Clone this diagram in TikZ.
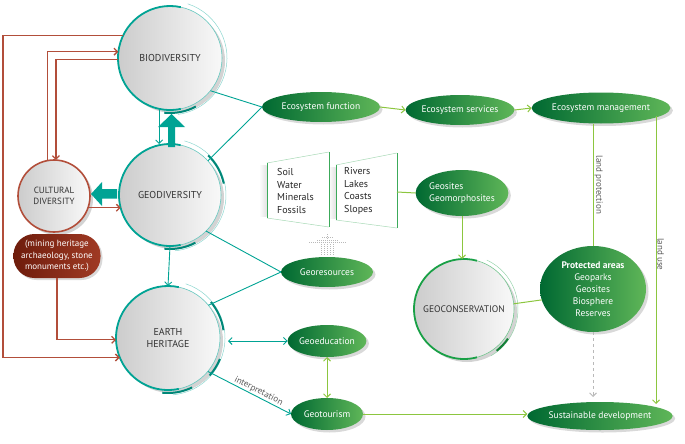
\documentclass[tikz,border=0pt]{standalone}
\usepackage{fontspec}
\setmainfont{PT Sans}
\usetikzlibrary{shapes.geometric,shadows,arrows.meta,calc}
\definecolor{teal1}{RGB}{0,163,148}
\definecolor{teal2}{RGB}{0,135,120}
\definecolor{brn}{RGB}{178,78,58}
\definecolor{blobdark}{RGB}{110,28,12}
\definecolor{bloblight}{RGB}{160,58,36}
\definecolor{gdark}{RGB}{0,105,50}
\definecolor{glight}{RGB}{95,182,88}
\definecolor{lgreen}{RGB}{140,198,63}
\definecolor{gcons}{RGB}{25,160,70}
\definecolor{pgreen}{RGB}{60,170,90}
\tikzset{
  circ/.style={circle, inner sep=0pt, outer sep=0pt, left color=gray!40, right color=gray!5,
    align=center, text=black!80, font=\fontsize{10}{12.5}\selectfont,
    drop shadow={opacity=0.35, shadow xshift=3pt, shadow yshift=-3pt}},
  gell/.style={ellipse, inner sep=0pt, outer sep=0pt, left color=gdark, right color=glight,
    text=white, align=center, font=\fontsize{9.5}{12}\selectfont,
    drop shadow={opacity=0.3, shadow xshift=2.5pt, shadow yshift=-2.5pt}},
  tip/.style={-{Straight Barb[length=3.5pt,width=7pt]}},
  dtip/.style={{Straight Barb[length=3.5pt,width=7pt]}-{Straight Barb[length=3.5pt,width=7pt]}},
  tline/.style={teal1, line width=0.9pt},
  gline/.style={lgreen, line width=1pt},
  bline/.style={draw=brn, line width=1.3pt},
  fat/.style={fill=teal1, draw=none},
  lbl/.style={text=gray!70!black, font=\fontsize{9}{11}\selectfont, inner sep=1pt},
  ptxt/.style={text=black!85, align=left, font=\fontsize{10}{12.6}\selectfont, inner sep=0pt}
}
\begin{document}
\begin{tikzpicture}[x=1pt,y=-1pt]
\useasboundingbox (0,0) rectangle (685,444);

% ---------- circles ----------
\node[circ, minimum size=104pt] (bio) at (170,58) {BIODIVERSITY};
\node[circ, minimum size=102pt] (geo) at (170,195) {GEODIVERSITY};
\node[circ, minimum size=104pt] (eh) at (168,338) {EARTH\\HERITAGE};
\node[circ, minimum size=72pt, font=\fontsize{9}{11.5}\selectfont] (cult) at (54,196) {CULTURAL\\DIVERSITY};
\node[circ, minimum size=100pt, font=\fontsize{9.5}{12}\selectfont] (gc) at (464,309) {GEOCONSERVATION};

% rings biodiversity
\draw[teal1!60, line width=0.6pt] (bio.center) circle[radius=52pt];
\draw[teal1, line width=1.8pt] ([shift={(78:52pt)}]bio.center) arc[start angle=78, end angle=282, radius=52pt];
\draw[teal1!45, line width=0.5pt] ([shift={(72:57pt)}]bio.center) arc[start angle=72, end angle=-82, radius=57pt];
\draw[teal2, line width=2pt] ([shift={(-96:55pt)}]bio.center) arc[start angle=-96, end angle=-62, radius=55pt];
% rings geodiversity
\draw[teal1!60, line width=0.6pt] (geo.center) circle[radius=51pt];
\draw[teal1, line width=1.8pt] ([shift={(78:51pt)}]geo.center) arc[start angle=78, end angle=282, radius=51pt];
\draw[teal1!45, line width=0.5pt] ([shift={(75:56pt)}]geo.center) arc[start angle=75, end angle=-85, radius=56pt];
\draw[teal2, line width=2pt] ([shift={(46:55pt)}]geo.center) arc[start angle=46, end angle=12, radius=55pt];
\draw[teal2, line width=2pt] ([shift={(-96:54pt)}]geo.center) arc[start angle=-96, end angle=-62, radius=54pt];
% rings earth heritage
\draw[teal1!60, line width=0.6pt] (eh.center) circle[radius=52pt];
\draw[teal1, line width=1.8pt] ([shift={(78:52pt)}]eh.center) arc[start angle=78, end angle=282, radius=52pt];
\draw[teal1!45, line width=0.5pt] ([shift={(72:57pt)}]eh.center) arc[start angle=72, end angle=-85, radius=57pt];
\draw[teal2, line width=2pt] ([shift={(40:56pt)}]eh.center) arc[start angle=40, end angle=8, radius=56pt];
\draw[teal2, line width=2pt] ([shift={(-22:56pt)}]eh.center) arc[start angle=-22, end angle=-42, radius=56pt];
\draw[teal2, line width=2pt] ([shift={(-96:55pt)}]eh.center) arc[start angle=-96, end angle=-64, radius=55pt];
% ring cultural
\draw[brn, line width=1.6pt] (cult.center) circle[radius=36pt];
% ring geoconservation
\draw[gcons, line width=1.8pt] ([shift={(75:50pt)}]gc.center) arc[start angle=75, end angle=285, radius=50pt];
\draw[gcons!60, line width=0.6pt] ([shift={(75:50pt)}]gc.center) arc[start angle=75, end angle=-75, radius=50pt];
\draw[gcons!45, line width=0.5pt] ([shift={(65:54pt)}]gc.center) arc[start angle=65, end angle=-60, radius=54pt];
\draw[gcons!80!black, line width=2pt] ([shift={(-52:53pt)}]gc.center) arc[start angle=-52, end angle=-34, radius=53pt];

% blob
\node[rectangle, rounded corners=21pt, minimum width=87pt, minimum height=44pt, inner sep=0pt,
  left color=blobdark, right color=bloblight, text=white, align=center,
  font=\fontsize{9}{11.5}\selectfont, drop shadow={opacity=0.3, shadow xshift=2pt, shadow yshift=-2pt}]
  (blob) at (57,256) {(mining heritage\\archaeology, stone\\monuments etc.)};

% fat arrows
\path[fat] (168,147) -- (168,127) -- (158,127) -- (171.5,114) -- (185,127) -- (175,127) -- (175,147) -- cycle;
\path[fat] (117,189) -- (102,189) -- (102,182) -- (91,194) -- (102,206) -- (102,198.5) -- (117,198.5) -- cycle;

% ---------- green ellipses ----------
\node[gell, minimum width=118pt, minimum height=30pt] (ef) at (321,107) {Ecosystem function};
\node[gell, minimum width=96pt, minimum height=30pt] (es) at (460,110) {Ecosystem services};
\node[gell, minimum width=127pt, minimum height=31pt] (em) at (601,108) {Ecosystem management};
\node[gell, minimum width=88pt, minimum height=46pt, align=left] (gs) at (462,193) {Geosites\\Geomorphosites};
\node[gell, minimum width=92pt, minimum height=30pt] (gr) at (327,272) {Georesources};
\node[gell, minimum width=66pt, minimum height=32pt] (ged) at (327,341) {Geoeducation};
\node[gell, minimum width=72pt, minimum height=32pt] (gt) at (327,414) {Geotourism};
\node[gell, minimum width=106pt, minimum height=86pt] (pa) at (593,289) {\textbf{Protected areas}\\Geoparks\\Geosites\\Biosphere\\Reserves};
\node[gell, minimum width=134pt, minimum height=28pt] (sd) at (600,416) {Sustainable development};

% ---------- panels ----------
\shade[left color=white, right color=gray!22] (259,165) rectangle (266.5,216);
\shade[left color=white, right color=gray!22] (328,167) rectangle (335.5,218);
\draw[pgreen!45, line width=0.5pt] (267,163) -- (329,152) (267,218) -- (329,227);
\draw[pgreen, line width=0.8pt] (267,163) -- (267,218) (329,152) -- (329,227);
\draw[pgreen!45, line width=0.5pt] (336,165) -- (397,153) (336,220) -- (397,228);
\draw[pgreen, line width=0.8pt] (336,165) -- (336,220) (397,153) -- (397,228);
\node[ptxt, anchor=west] (p1) at (277,191) {Soil\\Water\\Minerals\\Fossils};
\node[ptxt, anchor=west] (p2) at (344,191) {Rivers\\Lakes\\Coasts\\Slopes};
\coordinate (pR) at (397,192);

% dotted grey arrow
\begin{scope}[gray!55, line width=1pt, dash pattern=on 1pt off 1pt]
\draw (309,242.5) -- (347,242.5);
\draw (317,240) -- (339,240);
\draw (322,237.5) -- (334,237.5);
\foreach \x in {321,324,327,330,333} \draw (\x,244) -- (\x,256);
\draw (327,234) -- (327,244);
\end{scope}

% ---------- brown connectors ----------
\draw[bline, tip] (bio.154) -| (3,200) |- (eh.202);
\draw[bline, tip] (cult.100) |- (bio.173);
\draw[bline, tip] (bio.182) -| (cult.87);
\draw[bline, tip] (cult.-19) -- (cult.-19 -| geo.195);
\draw[bline, tip] (blob.south) |- (eh.182);

% ---------- teal connectors ----------
\draw[tline, tip] (bio.-102) -- (bio.-102 |- geo.north);
\draw[tline, tip] (geo.south) -- (eh.north);
\draw[tline] (bio.-39) -- (ef.west);
\draw[tline] (geo.42) -- (ef.west);
\draw[tline] (geo.-45) -- (gr.west);
\draw[tline] (eh.39) -- (gr.west);
\draw[tline, dtip] (ged.west) -- ([xshift=8pt]ged.west -| eh.east);
\draw[tline, tip] (eh.-40) -- node[lbl, sloped, above, pos=0.58] {interpretation} (gt.west);

% ---------- light green connectors ----------
\draw[gline, tip] (ef.east) -- (es.west);
\draw[gline, tip] (es.east) -- (em.west);
\draw[gline] (pa.north |- em.south) -- node[lbl, rotate=-90, anchor=south, pos=0.5] {land protection} (pa.north);
\coordinate (lu1) at (656,116);
\coordinate (lu2) at (656,404);
\draw[gline, tip] (lu1) -- node[lbl, rotate=-90, anchor=south, pos=0.48] {land use} (lu2);
\coordinate (dashend) at (593,397);
\draw[gray!55, line width=0.9pt, dashed, tip] (pa.south) -- (dashend);
\draw[gline, tip] (gs.south) -- (gs.south |- gc.north);
\draw[gline] (gc.6) -- (pa.192);
\draw[gline] (pR) -- (gs.west);
\draw[gline, dtip] (ged.south) -- (gt.north);
\draw[gline, tip] (gt.east) -- (gt.east -| sd.west);
\end{tikzpicture}
\end{document}
